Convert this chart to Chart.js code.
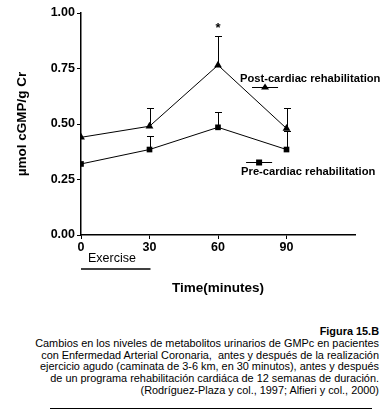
<!DOCTYPE html>
<html>
<head>
<meta charset="utf-8">
<script src="https://cdn.jsdelivr.net/npm/chart.js@4"></script>
<style>
  body { margin: 0; background: #fff; }
  #wrap { position: relative; width: 386px; height: 417px; font-family: "Liberation Sans", Arial, sans-serif; }
  #chart { position: absolute; left: 0; top: 0; }
  #caption { position: absolute; right: 7px; top: 326px; width: 380px; text-align: right; font-size: 10.9px; line-height: 11.8px; color: #000; }
  #caption b { font-weight: bold; }
  #rule { position: absolute; left: 50px; top: 408px; width: 322px; border-top: 1.5px solid #000; }
</style>
</head>
<body>
<div id="wrap">
  <canvas id="chart" width="386" height="300"></canvas>
  <div id="caption">
    <b>Figura 15.B</b><br>
    Cambios en los niveles de metabolitos urinarios de GMPc en pacientes<br>
    con Enfermedad Arterial Coronaria,&nbsp; antes y después de la realización<br>
    ejercicio agudo (caminata de 3-6 km, en 30 minutos), antes y después<br>
    de un programa rehabilitación cardiáca de 12 semanas de duración.<br>
    (Rodríguez-Plaza y col., 1997; Alfieri y col., 2000)
  </div>
  <div id="rule"></div>
</div>
<script>
var times = [0, 30, 60, 90];
var xTicks = [0, 30, 60, 90];
var postValues = [0.44, 0.49, 0.765, 0.48];
var postErrTop = [null, 0.57, 0.895, 0.57];
var preValues = [0.32, 0.385, 0.485, 0.385];
var preErrTop = [null, 0.448, 0.556, 0.47];
var postLabel = 'Post-cardiac rehabilitation';
var preLabel = 'Pre-cardiac rehabilitation';

var font = '"Liberation Sans", Arial, sans-serif';

function toPoints(vals){
    var pts = [];
    for(var i = 0; i < times.length; i++){
        pts.push({x: times[i], y: vals[i]});
    }
    return pts;
}

// upper error bars, asterisk, legend, exercise bar
var extras = {
    id: 'extras',
    beforeDatasetsDraw: function(chart){
        var ctx = chart.ctx;
        var xs = chart.scales.x, ys = chart.scales.y;
        ctx.save();
        ctx.strokeStyle = '#000';
        ctx.lineWidth = 1;
        var sets = [[postValues, postErrTop], [preValues, preErrTop]];
        sets.forEach(function(s){
            for(var i = 0; i < times.length; i++){
                if(s[1][i] == null) continue;
                var px = Math.round(xs.getPixelForValue(times[i])) + 0.5;
                var y0 = ys.getPixelForValue(s[0][i]);
                var y1 = Math.round(ys.getPixelForValue(s[1][i])) + 0.5;
                ctx.beginPath();
                ctx.moveTo(px, y0);
                ctx.lineTo(px, y1);
                ctx.moveTo(px - 3.5, y1);
                ctx.lineTo(px + 3.5, y1);
                ctx.stroke();
            }
        });
        ctx.restore();
    },
    afterDraw: function(chart){
        var ctx = chart.ctx;
        var xs = chart.scales.x, ys = chart.scales.y;
        ctx.save();
        ctx.fillStyle = '#000';
        ctx.strokeStyle = '#000';

        // asterisk over 60 min
        ctx.font = 'bold 13px ' + font;
        ctx.textAlign = 'center';
        ctx.textBaseline = 'middle';
        ctx.fillText('*', xs.getPixelForValue(60), ys.getPixelForValue(postErrTop[2]) - 8);

        // legend entries
        ctx.font = 'bold 11.2px ' + font;
        ctx.textAlign = 'left';
        ctx.fillText(postLabel, xs.getPixelForValue(69.6), ys.getPixelForValue(0.703));
        ctx.fillText(preLabel, xs.getPixelForValue(70.1), ys.getPixelForValue(0.284));

        ctx.lineWidth = 1;
        var ly = Math.round(ys.getPixelForValue(0.667)) + 0.5;
        var lx0 = xs.getPixelForValue(74.9), lx1 = xs.getPixelForValue(86.3);
        ctx.beginPath(); ctx.moveTo(lx0, ly); ctx.lineTo(lx1, ly); ctx.stroke();
        var cx = (lx0 + lx1) / 2;
        ctx.beginPath();
        ctx.moveTo(cx, ly - 4); ctx.lineTo(cx + 4, ly + 2); ctx.lineTo(cx - 4, ly + 2);
        ctx.closePath(); ctx.fill();

        ly = Math.round(ys.getPixelForValue(0.329)) + 0.5;
        lx0 = xs.getPixelForValue(72.3); lx1 = xs.getPixelForValue(83.7);
        ctx.beginPath(); ctx.moveTo(lx0, ly); ctx.lineTo(lx1, ly); ctx.stroke();
        cx = (lx0 + lx1) / 2;
        ctx.fillRect(cx - 3, ly - 3, 6, 6);

        // exercise period
        var e0 = xs.getPixelForValue(0), e1 = xs.getPixelForValue(30);
        ctx.font = '12.5px ' + font;
        ctx.textAlign = 'left';
        ctx.fillText('Exercise', e0 + 7, 259);
        ctx.lineWidth = 1.5;
        ctx.beginPath(); ctx.moveTo(e0, 269); ctx.lineTo(e1 + 1, 269); ctx.stroke();
        ctx.restore();
    }
};

new Chart(document.getElementById('chart'), {
    type: 'scatter',
    data: {
        datasets: [{
            label: postLabel,
            data: toPoints(postValues),
            showLine: true,
            borderColor: '#000',
            backgroundColor: '#000',
            borderWidth: 1,
            pointStyle: 'triangle',
            pointRadius: 4.5,
            pointBorderWidth: 0
        }, {
            label: preLabel,
            data: toPoints(preValues),
            showLine: true,
            borderColor: '#000',
            backgroundColor: '#000',
            borderWidth: 1,
            pointStyle: 'rect',
            pointRadius: 4,
            pointBorderWidth: 0
        }]
    },
    options: {
        responsive: false,
        devicePixelRatio: 1,
        animation: false,
        layout: { padding: { top: 13, right: 31, left: 0, bottom: 0 } },
        plugins: { legend: { display: false }, tooltip: { enabled: false } },
        scales: {
            x: {
                type: 'linear',
                min: 0,
                max: 120,
                afterBuildTicks: function(scale){
                    scale.ticks = xTicks.map(function(v){ return {value: v}; });
                },
                afterFit: function(scale){ scale.height = 65; },
                grid: { drawOnChartArea: false, color: '#000', tickLength: 4, tickWidth: 1 },
                border: { color: '#000', width: 1.5 },
                ticks: { color: '#000', padding: 1, maxRotation: 0, font: { family: font, size: 12.5, weight: 'bold' } },
                title: {
                    display: true,
                    text: 'Time(minutes)',
                    color: '#000',
                    font: { family: font, size: 13.5, weight: 'bold' },
                    padding: { top: 0, bottom: 4 }
                }
            },
            y: {
                min: 0,
                max: 1,
                afterFit: function(scale){ scale.width = 81; },
                grid: { drawOnChartArea: false, color: '#000', tickLength: 4, tickWidth: 1 },
                border: { color: '#000', width: 1.5 },
                ticks: {
                    stepSize: 0.25,
                    color: '#000',
                    padding: 2,
                    font: { family: font, size: 12.5, weight: 'bold' },
                    callback: function(v){ return v.toFixed(2); }
                },
                title: {
                    display: true,
                    text: 'µmol cGMP/g Cr',
                    color: '#000',
                    font: { family: font, size: 13.5, weight: 'bold' },
                    padding: { top: 14, bottom: 0 }
                }
            }
        }
    },
    plugins: [extras]
});
</script>
</body>
</html>
